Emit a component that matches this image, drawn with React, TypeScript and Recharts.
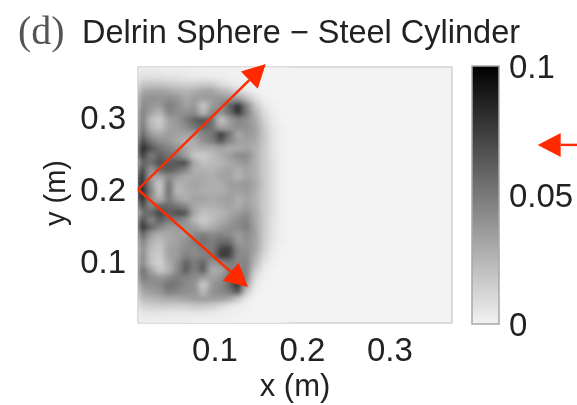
import { BarChart, Bar, ScatterChart, Scatter, XAxis, YAxis, ReferenceArea, ReferenceLine } from 'recharts';

// field amplitude in thousandths, top row first, one value per x position
const xPositions = [0.017, 0.027, 0.037, 0.047, 0.057, 0.067, 0.077, 0.087, 0.097, 0.107, 0.117, 0.127, 0.137, 0.147, 0.157, 0.167, 0.177];
const yPositions = [
  0.367, 0.357, 0.347, 0.337, 0.327, 0.317, 0.307, 0.297, 0.287, 0.277, 0.267, 0.257,
  0.247, 0.237, 0.227, 0.217, 0.207, 0.197, 0.187, 0.177, 0.167, 0.157, 0.147, 0.137,
  0.127, 0.117, 0.107, 0.097, 0.087, 0.077, 0.067, 0.057, 0.047, 0.037, 0.027, 0.017,
];
const amplitudeRows = [
  [5, 5, 5, 4, 4, 4, 3, 3, 3, 3, 3, 3, 2, 2, 2, 2, 2],
  [8, 8, 8, 7, 7, 6, 5, 5, 4, 4, 3, 3, 3, 2, 2, 2, 2],
  [16, 17, 17, 15, 14, 13, 13, 15, 14, 9, 6, 4, 3, 3, 2, 2, 2],
  [26, 28, 28, 27, 24, 22, 24, 28, 28, 22, 18, 11, 6, 3, 2, 2, 2],
  [32, 34, 33, 34, 32, 26, 30, 30, 30, 32, 30, 30, 18, 8, 3, 2, 2],
  [36, 32, 30, 40, 36, 28, 32, 16, 30, 36, 48, 68, 38, 16, 6, 3, 2],
  [40, 28, 22, 38, 34, 34, 36, 20, 38, 34, 46, 72, 40, 22, 9, 4, 2],
  [42, 20, 14, 28, 32, 40, 50, 55, 46, 16, 30, 38, 34, 26, 12, 5, 2],
  [44, 22, 16, 28, 30, 36, 44, 50, 44, 26, 30, 36, 34, 28, 15, 6, 3],
  [48, 30, 26, 30, 28, 28, 30, 38, 42, 66, 44, 26, 32, 28, 16, 7, 3],
  [60, 42, 34, 32, 26, 22, 26, 34, 40, 54, 38, 28, 28, 26, 16, 7, 3],
  [72, 55, 44, 38, 34, 26, 22, 24, 24, 28, 24, 26, 28, 24, 15, 7, 3],
  [66, 40, 50, 44, 40, 30, 16, 14, 20, 24, 30, 36, 36, 24, 15, 7, 3],
  [48, 45, 56, 50, 54, 58, 26, 18, 20, 22, 26, 30, 32, 24, 15, 8, 3],
  [62, 30, 48, 52, 46, 38, 24, 24, 22, 26, 28, 24, 28, 24, 15, 8, 3],
  [84, 28, 26, 36, 30, 24, 26, 26, 24, 28, 28, 22, 28, 24, 15, 8, 3],
  [96, 35, 14, 46, 22, 26, 28, 26, 24, 24, 30, 30, 32, 26, 16, 8, 3],
  [100, 40, 16, 48, 20, 24, 26, 24, 24, 24, 28, 28, 30, 24, 15, 8, 3],
  [94, 35, 22, 42, 28, 24, 28, 28, 26, 28, 30, 24, 28, 24, 15, 8, 3],
  [60, 36, 48, 46, 42, 36, 26, 24, 24, 26, 28, 24, 30, 24, 15, 8, 3],
  [42, 48, 58, 50, 56, 56, 26, 18, 20, 22, 26, 30, 34, 26, 15, 8, 3],
  [58, 36, 52, 42, 40, 34, 20, 14, 20, 24, 30, 36, 38, 26, 15, 7, 3],
  [68, 48, 38, 30, 30, 32, 30, 22, 24, 30, 34, 36, 40, 28, 15, 7, 3],
  [50, 30, 24, 26, 28, 28, 36, 40, 36, 38, 36, 30, 36, 28, 15, 7, 3],
  [40, 24, 18, 26, 28, 34, 40, 44, 40, 46, 46, 30, 34, 28, 14, 6, 3],
  [36, 20, 16, 28, 30, 36, 36, 40, 40, 58, 62, 36, 34, 28, 13, 5, 2],
  [38, 18, 14, 28, 30, 40, 36, 38, 42, 64, 60, 36, 36, 24, 10, 4, 2],
  [38, 18, 12, 24, 34, 50, 40, 50, 30, 36, 40, 36, 38, 20, 7, 3, 2],
  [46, 28, 16, 22, 36, 52, 38, 54, 24, 26, 40, 38, 38, 14, 4, 2, 2],
  [42, 36, 32, 36, 40, 38, 36, 30, 28, 32, 46, 56, 36, 8, 3, 2, 2],
  [34, 34, 36, 44, 42, 36, 34, 14, 32, 36, 48, 70, 28, 5, 2, 2, 2],
  [26, 30, 32, 40, 38, 34, 34, 20, 34, 36, 42, 58, 15, 3, 2, 2, 2],
  [20, 22, 24, 26, 26, 28, 30, 30, 30, 30, 26, 15, 5, 2, 2, 2, 2],
  [12, 13, 14, 14, 14, 14, 16, 16, 14, 10, 6, 4, 3, 2, 2, 2, 2],
  [6, 7, 7, 6, 6, 6, 6, 6, 5, 4, 3, 3, 2, 2, 2, 2, 2],
  [4, 4, 4, 4, 4, 4, 3, 3, 3, 3, 3, 2, 2, 2, 2, 2, 2],
];

const xTicks = [0.1, 0.2, 0.3];
const yTicks = [0.1, 0.2, 0.3];
const colorTicks = [0, 0.05, 0.1];
const xDomain = [0.012, 0.371];
const yDomain = [0.0139, 0.3708];

// [x1, y1, x2, y2] in metres, the last one points at the colour bar
const arrows = [
  [0.012, 0.2, 0.158, 0.375],
  [0.012, 0.2, 0.1377, 0.0641],
  [0.514, 0.2622, 0.469, 0.2622],
];

const cells = amplitudeRows.flatMap((row, r) =>
  row.map((v, c) => ({ x: xPositions[c], y: yPositions[r], v }))
);

const plot = { left: 138, top: 67, width: 314, height: 256 };
const plotMargin = { left: plot.left, top: plot.top, right: 577 - plot.left - plot.width, bottom: 405 - plot.top - plot.height };
const cellW = 9.3;
const cellH = 7.7;
const RED = '#ff2a00';
const TEXT = '#222';
const FONT = '"Liberation Sans", Arial, sans-serif';

const grayOf = (v: number) => {
  const g = Math.round(243 * (1 - Math.min(1, ((v - 2) * 1.25) / 98)));
  return `rgb(${g},${g},${g})`;
};

const HeatCell = (props: any) => (
  <rect
    x={props.cx - cellW / 2}
    y={props.cy - cellH / 2}
    width={cellW}
    height={cellH}
    fill={grayOf(props.payload.v)}
  />
);

const Arrow = (props: any) => {
  const { x1, y1, x2, y2 } = props;
  const len = Math.hypot(x2 - x1, y2 - y1);
  const ux = (x2 - x1) / len;
  const uy = (y2 - y1) / len;
  const bx = x2 - ux * 23;
  const by = y2 - uy * 23;
  const head = `${x2},${y2} ${bx - uy * 12},${by + ux * 12} ${bx + uy * 12},${by - ux * 12}`;
  return (
    <g>
      <line x1={x1} y1={y1} x2={bx} y2={by} stroke={RED} strokeWidth={2.4} />
      <polygon points={head} fill={RED} />
    </g>
  );
};

const tickStyle = { fill: TEXT, fontSize: 33, fontFamily: FONT };
const layer = { position: 'absolute', left: 0, top: 0 } as const;

export default function App() {
  return (
    <div style={{ position: 'relative', width: 577, height: 405, overflow: 'hidden', filter: 'blur(0.45px)' }}>
      <style>{`body{margin:0;background:#fff}.recharts-scatter{filter:url(#heat-blur)}`}</style>
      <div style={layer}>
        <ScatterChart
          width={577}
          height={405}
          margin={{ left: 68, top: plot.top, right: plotMargin.right, bottom: plotMargin.bottom - 62 }}
        >
          <defs>
            <filter
              id="heat-blur"
              filterUnits="userSpaceOnUse"
              x={plot.left}
              y={plot.top}
              width={plot.width}
              height={plot.height}
            >
              <feGaussianBlur stdDeviation="3 2.5" edgeMode="duplicate" />
            </filter>
          </defs>
          <XAxis
            type="number"
            dataKey="x"
            domain={xDomain}
            ticks={xTicks}
            allowDataOverflow
            height={62}
            axisLine={false}
            tickLine={false}
            tickMargin={9}
            tick={tickStyle}
            tickFormatter={(v: number) => v.toFixed(1)}
          />
          <YAxis
            type="number"
            dataKey="y"
            domain={yDomain}
            ticks={yTicks}
            allowDataOverflow
            width={70}
            axisLine={false}
            tickLine={false}
            tickMargin={6}
            tick={tickStyle}
            tickFormatter={(v: number) => v.toFixed(1)}
          />
          <ReferenceArea
            x1={xDomain[0]}
            x2={xDomain[1]}
            y1={yDomain[0]}
            y2={yDomain[1]}
            fill="#f3f3f3"
            fillOpacity={1}
            stroke="#d2d2d2"
            strokeWidth={1.5}
          />
          <Scatter data={cells} shape={HeatCell} isAnimationActive={false} />
          <text x={18} y={44} fontFamily='"Liberation Serif", serif' fontSize={40} fill="#555">(d)</text>
          <text x={82} y={43} fontFamily={FONT} fontSize={32.5} fill={TEXT}>Delrin Sphere − Steel Cylinder</text>
          <text x={295} y={396} textAnchor="middle" fontFamily={FONT} fontSize={31} fill={TEXT}>x (m)</text>
          <text
            x={65}
            y={193}
            textAnchor="middle"
            fontFamily={FONT}
            fontSize={29}
            fill={TEXT}
            transform="rotate(-90 65 193)"
          >
            y (m)
          </text>
        </ScatterChart>
      </div>
      <div style={layer}>
        <BarChart
          width={577}
          height={405}
          data={[{ name: 'scale', top: 0.1 }]}
          margin={{ left: 472, top: 66, right: 0, bottom: 81 }}
          barCategoryGap={0}
        >
          <defs>
            <linearGradient id="grayscale" x1="0" y1="0" x2="0" y2="1">
              <stop offset="0" stopColor="#000" />
              <stop offset="1" stopColor="#f2f2f2" />
            </linearGradient>
          </defs>
          <XAxis dataKey="name" hide />
          <YAxis
            orientation="right"
            type="number"
            domain={[0, 0.1]}
            ticks={colorTicks}
            width={78}
            axisLine={false}
            tickLine={false}
            tickMargin={4}
            tick={{ ...tickStyle, textAnchor: 'start' }}
            tickFormatter={(v: number) => String(v)}
          />
          <Bar dataKey="top" fill="url(#grayscale)" stroke="#a8a8a8" strokeWidth={1.5} isAnimationActive={false} />
        </BarChart>
      </div>
      {/* arrows sit in their own chart so they stay above the heat map */}
      <div style={layer}>
        <ScatterChart width={577} height={405} margin={plotMargin}>
          <XAxis type="number" dataKey="x" domain={xDomain} hide allowDataOverflow />
          <YAxis type="number" dataKey="y" domain={yDomain} hide allowDataOverflow />
          {arrows.map((a, i) => (
            <ReferenceLine
              key={i}
              segment={[{ x: a[0], y: a[1] }, { x: a[2], y: a[3] }]}
              ifOverflow="visible"
              shape={Arrow}
            />
          ))}
        </ScatterChart>
      </div>
    </div>
  );
}
